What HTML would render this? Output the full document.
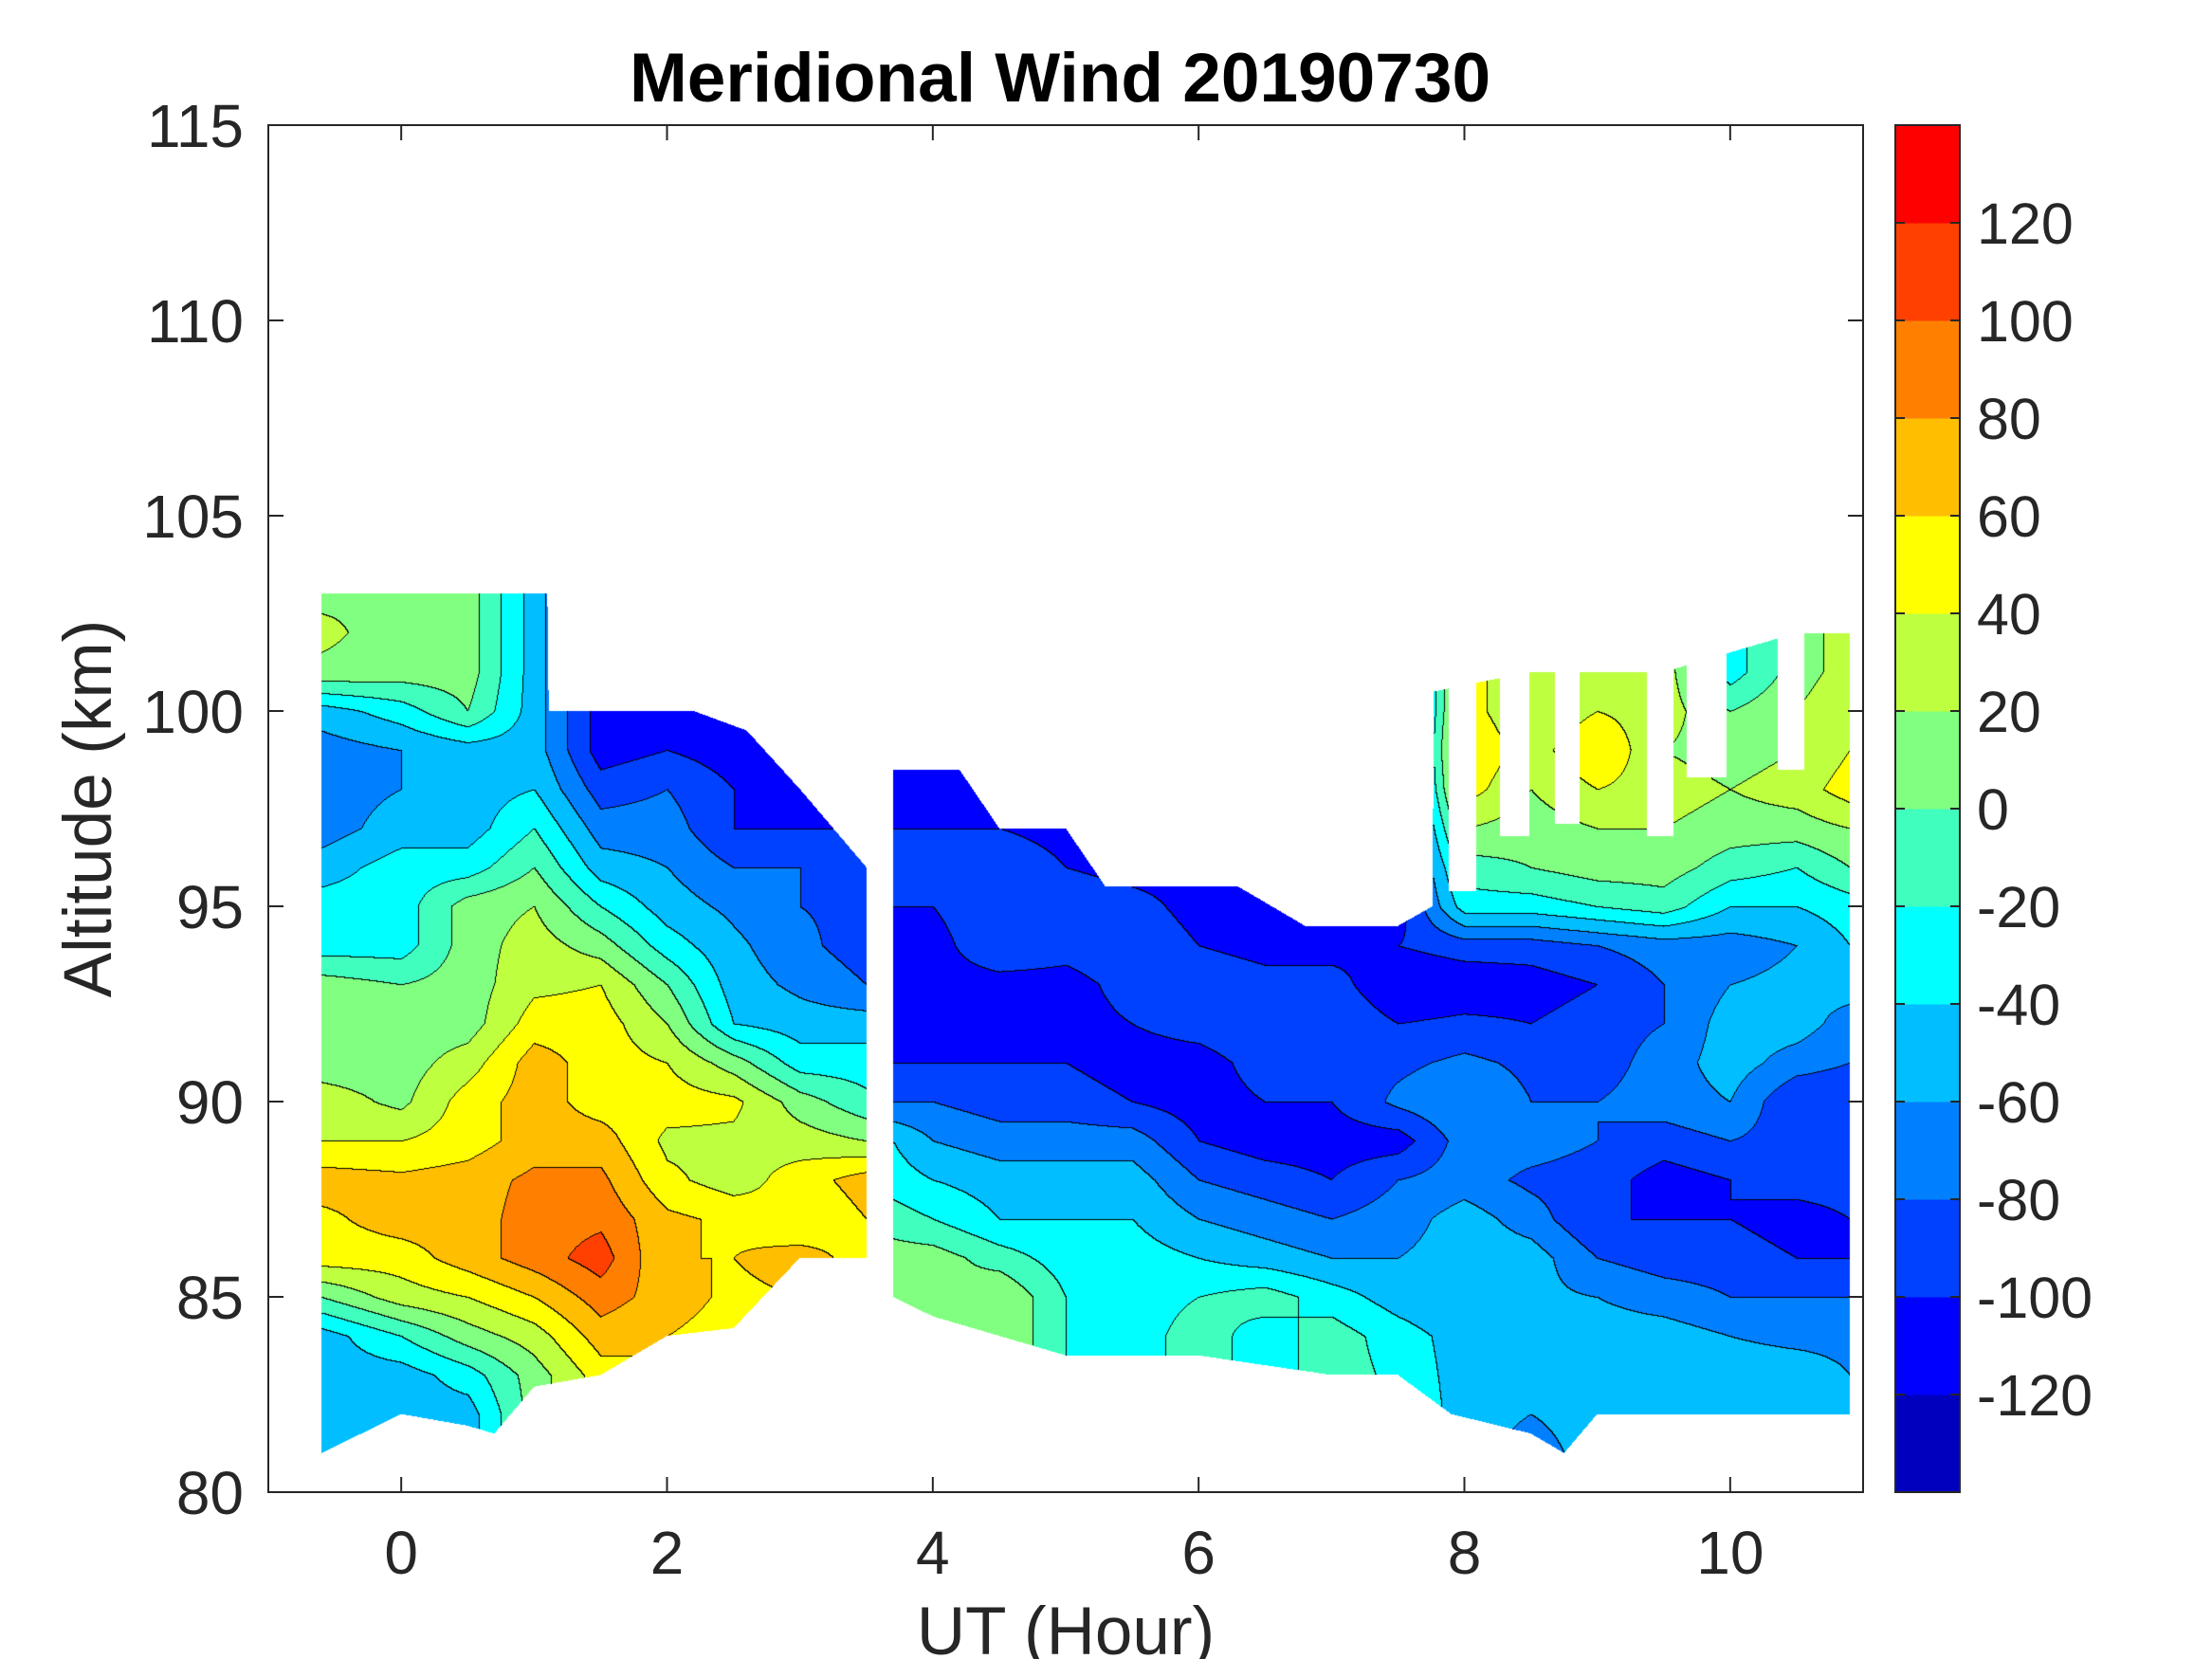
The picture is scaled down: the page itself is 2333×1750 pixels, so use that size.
<!DOCTYPE html>
<html><head><meta charset="utf-8"><style>
html,body{margin:0;padding:0;background:#fff;}
#wrap{position:relative;width:2333px;height:1750px;overflow:hidden;font-family:"Liberation Sans",Arial,sans-serif;}
canvas{position:absolute;left:283px;top:132px;}
svg{position:absolute;left:0;top:0;}
</style></head><body>
<div id="wrap">
<canvas id="cv" width="1682" height="1442"></canvas>
<svg id="sv" width="2333" height="1750"></svg>
</div>
<script>
// ---- data ----
const colHours = [-0.6,0,0.5,1.0,1.5,2.0,2.5,3.0,3.5,3.7,4.0,4.5,5.0,5.5,6.0,6.5,7.0,7.5,8.0,8.5,9.0,9.5,10.0,10.5,10.9];
const altitudes = [81,82,83,84,85,86,87,88,89,90,91,92,93,94,95,96,97,98,99,100,101,102,103];
const windCols = [
[-50,-50,-50,-50,0,50,55,70,40,30,10,10,10,-30,-30,-50,-70,-70,-70,-50,15,25,15],
[-40,-50,-50,-20,30,50,70,65,40,15,10,10,0,-30,-30,-30,-50,-60,-60,-30,10,10,20],
[-50,-50,-30,10,40,70,70,70,50,50,30,10,10,10,10,-30,-50,-50,-50,0,10,10,10],
[10,10,10,30,60,90,90,85,70,70,70,50,35,30,20,0,-20,-40,-50,-50,-50,-50,-50],
[50,50,50,70,90,110,95,85,70,50,50,50,40,10,-20,-50,-70,-90,-110,-110,-110,-110,-110],
[60,60,60,60,70,60,65,45,35,50,40,20,0,-30,-50,-60,-70,-80,-100,-110,-110,-110,-110],
[50,50,50,50,55,60,55,30,35,45,10,-40,-50,-55,-65,-80,-100,-100,-110,-110,-110,-110,-110],
[60,60,60,60,60,70,40,50,30,10,-30,-50,-65,-75,-80,-80,-100,-110,-110,-110,-110,-110,-110],
[50,50,50,50,50,50,60,70,20,-15,-30,-50,-80,-90,-85,-90,-100,-100,-100,-100,-100,-100,-100],
[20,20,20,20,20,10,-10,-30,-40,-80,-100,-110,-110,-100,-100,-90,-100,-110,-120,-120,-120,-120,-120],
[10,10,10,10,0,10,-20,-40,-60,-80,-100,-110,-110,-110,-100,-90,-100,-110,-120,-120,-120,-120,-120],
[20,20,20,20,20,-10,-40,-50,-70,-90,-100,-110,-110,-80,-80,-80,-100,-110,-110,-110,-110,-110,-110],
[-20,-20,-20,-20,-20,-30,-40,-50,-70,-90,-100,-110,-110,-90,-80,-100,-110,-110,-110,-110,-110,-110,-110],
[-30,-30,-30,-30,-30,-30,-40,-50,-70,-100,-110,-100,-90,-80,-90,-110,-110,-110,-110,-110,-110,-110,-110],
[-10,-10,-10,-10,-20,-40,-60,-80,-100,-110,-110,-90,-80,-100,-110,-110,-110,-110,-110,-110,-110,-110,-110],
[-30,-30,-30,-30,-10,-50,-70,-90,-110,-100,-90,-80,-90,-110,-110,-110,-110,-110,-110,-110,-110,-110,-110],
[-10,-10,-10,-10,-30,-60,-80,-100,-110,-100,-90,-80,-90,-110,-120,-120,-120,-120,-120,-120,-120,-120,-120],
[-20,-20,-25,-30,-50,-60,-70,-80,-110,-75,-85,-100,-120,-100,-110,-110,-110,-110,-110,-110,-110,-110,-110],
[-50,-50,-50,-50,-60,-50,-50,-70,-70,-60,-75,-95,-115,-90,-30,-10,20,50,60,50,50,50,50],
[-70,-60,-40,-50,-55,-50,-70,-85,-70,-80,-85,-100,-110,-90,-30,0,10,20,30,20,20,20,20],
[-50,-50,-50,-50,-60,-80,-100,-90,-80,-80,-90,-90,-100,-80,-20,10,20,40,60,40,40,40,40],
[-60,-60,-60,-50,-70,-90,-100,-110,-90,-70,-70,-80,-80,-70,-10,10,20,30,20,30,30,30,30],
[-50,-50,-40,-60,-80,-90,-100,-100,-80,-60,-50,-50,-60,-70,-40,-10,10,20,10,0,-30,-30,-30],
[-40,-40,-40,-70,-80,-100,-110,-90,-90,-100,-70,-50,-55,-60,-40,-20,10,30,20,20,10,10,10],
[-60,-60,-60,-70,-80,-100,-100,-90,-90,-100,-80,-70,-50,-40,-30,0,20,50,40,40,30,30,30]
];
const topHours = [-0.6,1.1,1.11,2.2,2.6,3.0,3.5,3.7,4.2,4.5,5.0,5.3,6.3,6.8,7.5,7.76,7.77,8.5,9.0,9.5,10.0,10.5,10.9];
const topAlts  = [103,103,100,100,99.5,98,96,98.5,98.5,97,97,95.5,95.5,94.5,94.5,95,100.5,101,101,101,101.5,102,102];
const botHours = [-0.6,0,0.5,0.7,1.0,1.5,2.0,2.5,3.0,3.5,3.7,4.0,4.5,5.0,6.0,7.0,7.5,7.9,8.5,8.75,9.0,10.0,10.9];
const botAlts  = [81,82,81.7,81.5,82.7,83,84,84.2,86,86,85,84.5,84,83.5,83.5,83,83,82,81.5,81,82,82,82];
const gapStart = [3.5,7.88,8.27,8.68,9.37,9.67,10.36];
const gapEnd   = [3.7,8.09,8.49,8.87,9.57,9.97,10.56];
const gapFloor = [0,95.4,96.8,97.1,96.8,98.3,98.5];
const cbTicks = [-120,-100,-80,-60,-40,-20,0,20,40,60,80,100,120];
const xTicks = [0,2,4,6,8,10];
const yTicks = [80,85,90,95,100,105,110,115];
const levelColors = [[0,0,190],[0,0,255],[0,64,255],[0,128,255],[0,190,255],[0,255,255],[64,255,190],[128,255,128],[190,255,64],[255,255,0],[255,190,0],[255,128,0],[255,64,0],[255,0,0]];

// ---- axes ----
const PL=283, PR=1965, PT=132, PB=1574;
const X0=-1, X1=11, Y0=80, Y1=115;
function xPx(h){return PL+(h-X0)/(X1-X0)*(PR-PL);}
function yPx(a){return PB-(a-Y0)/(Y1-Y0)*(PB-PT);}
function interp(xs,ys,x){
  if(x<=xs[0])return ys[0];
  for(let i=1;i<xs.length;i++){ if(x<=xs[i]){const t=(x-xs[i-1])/(xs[i]-xs[i-1]);return ys[i-1]+t*(ys[i]-ys[i-1]);} }
  return ys[ys.length-1];
}
// ---- fill ----
const cv=document.getElementById('cv');
const ctx=cv.getContext('2d');
const W=cv.width,H=cv.height;
const img=ctx.createImageData(W,H);
const lev=new Int8Array(W*H).fill(-1);
for(let px=0;px<W;px++){
  const h=X0+(px+0.5)/W*(X1-X0);
  if(h<colHours[0]||h>colHours[colHours.length-1])continue;
  const top=interp(topHours,topAlts,h), bot=interp(botHours,botAlts,h);
  let gf=null;
  for(let g=0;g<gapStart.length;g++){ if(h>gapStart[g]&&h<gapEnd[g]){gf=gapFloor[g];} }
  let j=1; while(j<colHours.length-1&&h>colHours[j])j++;
  const tx=(h-colHours[j-1])/(colHours[j]-colHours[j-1]);
  for(let py=0;py<H;py++){
    const a=Y1-(py+0.5)/H*(Y1-Y0);
    if(a>top||a<bot)continue;
    if(gf!==null&&a>gf)continue;
    let fi=(a-altitudes[0]); if(fi<0)fi=0; if(fi>altitudes.length-1.0001)fi=altitudes.length-1.0001;
    const i0=Math.floor(fi), ty=fi-i0;
    const c0=windCols[j-1], c1=windCols[j];
    const v0=c0[i0]+(c0[i0+1]-c0[i0])*ty, v1=c1[i0]+(c1[i0+1]-c1[i0])*ty;
    const v=v0+(v1-v0)*tx;
    let L=Math.floor((v+140)/20); if(L<0)L=0; if(L>13)L=13;
    lev[py*W+px]=L;
  }
}
for(let py=0;py<H;py++)for(let px=0;px<W;px++){
  const k=py*W+px, L=lev[k]; if(L<0)continue;
  let c=levelColors[L];
  const l2=px>0?lev[k-1]:-1, u=py>0?lev[k-W]:-1;
  if((l2>=0&&l2!==L)||(u>=0&&u!==L)) c=[0,0,0];
  const o=k*4; img.data[o]=c[0];img.data[o+1]=c[1];img.data[o+2]=c[2];img.data[o+3]=255;
}
ctx.putImageData(img,0,0);

// ---- svg ----
const NS='http://www.w3.org/2000/svg';
const sv=document.getElementById('sv');
function mk(tag,attrs,parent){const e=document.createElementNS(NS,tag);for(const k in attrs)e.setAttribute(k,attrs[k]);(parent||sv).appendChild(e);return e;}
const frame=mk('rect',{x:PL,y:PT,width:PR-PL,height:PB-PT,fill:'none',stroke:'#262626','stroke-width':2});


xTicks.forEach(t=>{
  const x=xPx(t);
  mk('line',{x1:x,y1:PB,x2:x,y2:PB-16,stroke:'#262626','stroke-width':2});
  mk('line',{x1:x,y1:PT,x2:x,y2:PT+16,stroke:'#262626','stroke-width':2});
  const tx=mk('text',{x:x,y:1660,'text-anchor':'middle','font-size':64,fill:'#262626'});
  tx.textContent=t;
  
  
});
yTicks.forEach(t=>{
  const y=yPx(t);
  mk('line',{x1:PL,y1:y,x2:PL+16,y2:y,stroke:'#262626','stroke-width':2});
  mk('line',{x1:PR,y1:y,x2:PR-16,y2:y,stroke:'#262626','stroke-width':2});
  const tx=mk('text',{x:257,y:y+23,'text-anchor':'end','font-size':64,fill:'#262626'});
  tx.textContent=t;
  
  
});
// colorbar
const CBL=1999, CBR=2067;
function cbY(v){return PB-(v+140)/280*(PB-PT);}
levelColors.forEach((c,i)=>{
  const r=mk('rect',{x:CBL,y:cbY(-140+(i+1)*20),width:CBR-CBL,height:cbY(-140+i*20)-cbY(-140+(i+1)*20)+0.5,fill:'rgb('+c.join(',')+')'});
  
  
});
const cbf=mk('rect',{x:CBL,y:PT,width:CBR-CBL,height:PB-PT,fill:'none',stroke:'#262626','stroke-width':2});


cbTicks.forEach(t=>{
  const y=cbY(t);
  mk('line',{x1:CBL,y1:y,x2:CBL+10,y2:y,stroke:'#262626','stroke-width':2});
  mk('line',{x1:CBR,y1:y,x2:CBR-10,y2:y,stroke:'#262626','stroke-width':2});
  const tx=mk('text',{x:2085,y:y+22,'font-size':61,fill:'#262626'});
  tx.textContent=t;
  
  
});
</script>
<svg width="2333" height="1750" style="position:absolute;left:0;top:0;pointer-events:none">
<text x="1118" y="107" text-anchor="middle" font-family="Liberation Sans, Arial, sans-serif" font-weight="bold" font-size="73" fill="#000">Meridional Wind 20190730</text>
<text x="1124" y="1745" text-anchor="middle" font-family="Liberation Sans, Arial, sans-serif" font-size="71" fill="#262626">UT (Hour)</text>
<text x="0" y="0" transform="translate(117,853) rotate(-90)" text-anchor="middle" font-family="Liberation Sans, Arial, sans-serif" font-size="71" fill="#262626">Altitude (km)</text>
</svg>
</body></html>
